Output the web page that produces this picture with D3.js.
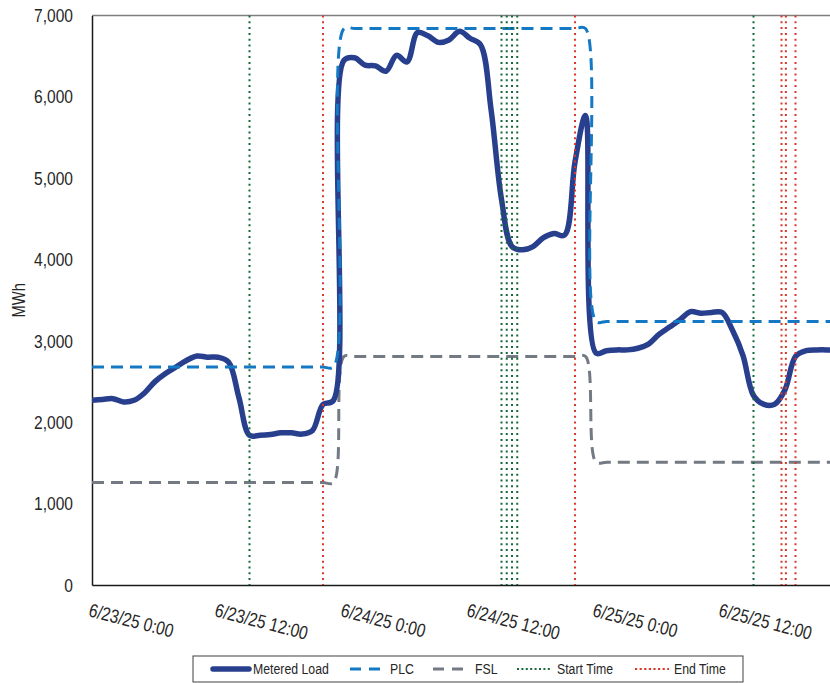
<!DOCTYPE html>
<html>
<head>
<meta charset="utf-8">
<script src="https://cdn.jsdelivr.net/npm/d3@7"></script>
<style>
  html, body { margin: 0; padding: 0; background: #fff; }
  svg { display: block; }
  text { font-family: "Liberation Sans", Arial, sans-serif; fill: #262626; }
</style>
</head>
<body>
<svg id="chart" width="830" height="683"></svg>
<script>
// Hourly readings, 6/23/25 0:00 through 6/25/25 23:00
const startHour = new Date(2025, 5, 23, 0, 0);

const meteredLoad = [
  2270, 2280, 2290, 2250, 2270, 2360, 2500, 2600, 2680, 2760, 2815, 2800,
  2800, 2740, 2300, 1840, 1840, 1850, 1870, 1870, 1855, 1900, 2220, 2270,
  6450, 6480, 6390, 6380, 6315, 6510, 6430, 6790, 6750, 6670, 6700, 6805,
  6720, 6640, 5850, 4740, 4160, 4120, 4160, 4270, 4320, 4300, 5200, 5770,
  2850, 2880, 2890, 2890, 2910, 2960, 3080, 3170, 3260, 3360, 3340, 3350,
  3350, 3130, 2820, 2330, 2220, 2220, 2400, 2810, 2880, 2890, 2890, 2880
];

const plc = [
  2680, 2680, 2680, 2680, 2680, 2680, 2680, 2680, 2680, 2680, 2680, 2680,
  2680, 2680, 2680, 2680, 2680, 2680, 2680, 2680, 2680, 2680, 2680, 2680,
  6840, 6840, 6840, 6840, 6840, 6840, 6840, 6840, 6840, 6840, 6840, 6840,
  6840, 6840, 6840, 6840, 6840, 6840, 6840, 6840, 6840, 6840, 6840, 6840,
  3240, 3240, 3240, 3240, 3240, 3240, 3240, 3240, 3240, 3240, 3240, 3240,
  3240, 3240, 3240, 3240, 3240, 3240, 3240, 3240, 3240, 3240, 3240, 3240
];

const fsl = [
  1260, 1260, 1260, 1260, 1260, 1260, 1260, 1260, 1260, 1260, 1260, 1260,
  1260, 1260, 1260, 1260, 1260, 1260, 1260, 1260, 1260, 1260, 1260, 1260,
  2810, 2810, 2810, 2810, 2810, 2810, 2810, 2810, 2810, 2810, 2810, 2810,
  2810, 2810, 2810, 2810, 2810, 2810, 2810, 2810, 2810, 2810, 2810, 2810,
  1510, 1510, 1510, 1510, 1510, 1510, 1510, 1510, 1510, 1510, 1510, 1510,
  1510, 1510, 1510, 1510, 1510, 1510, 1510, 1510, 1510, 1510, 1510, 1510
];

const startTimes = [
  "2025-06-23 15:00", "2025-06-24 15:00", "2025-06-24 15:30",
  "2025-06-24 16:00", "2025-06-24 16:30", "2025-06-25 15:00"
];
const endTimes = [
  "2025-06-23 22:00", "2025-06-24 22:00", "2025-06-25 17:40",
  "2025-06-25 18:05", "2025-06-25 19:00"
];

const yTicks = [0, 1000, 2000, 3000, 4000, 5000, 6000, 7000];
const xTicks = ["2025-06-23 00:00", "2025-06-23 12:00", "2025-06-24 00:00",
                "2025-06-24 12:00", "2025-06-25 00:00", "2025-06-25 12:00"];

const legendItems = ["Metered Load", "PLC", "FSL", "Start Time", "End Time"];

// ---------------------------------------------------------------------
const parseTime = d3.timeParse("%Y-%m-%d %H:%M");
const fmtTick = d3.timeFormat("%-m/%-d/%y %-H:%M");
const times = meteredLoad.map((_, i) => d3.timeHour.offset(startHour, i));

// narrow-face text: squeeze glyphs horizontally
const NARROW = 0.82;

const svg = d3.select("#chart");
const plot = { left: 92, right: 848, top: 15.5, bottom: 585 };

const x = d3.scaleTime()
  .domain([startHour, d3.timeDay.offset(startHour, 3)])
  .range([plot.left, plot.right]);
const y = d3.scaleLinear()
  .domain([0, 7000])
  .range([plot.bottom, plot.top]);

const colors = {
  metered: "#283F8E",
  plc: "#1479C4",
  fsl: "#737A83",
  start: "#16693A",
  end: "#D8392B"
};

// plot frame: grey top edge, black value and time axes
svg.append("line")
  .attr("x1", plot.left).attr("x2", plot.right)
  .attr("y1", plot.top).attr("y2", plot.top)
  .attr("stroke", "#7f7f7f").attr("stroke-width", 1.5);

// y axis
const yAxis = svg.append("g")
  .attr("transform", `translate(${plot.left},0)`)
  .call(d3.axisLeft(y).tickValues(yTicks).tickSize(0)
        .tickFormat(d3.format(",")));
yAxis.select(".domain").attr("stroke", "#1a1a1a").attr("stroke-width", 1.5);
yAxis.selectAll(".tick text")
  .attr("x", 0)
  .attr("transform", `translate(-19,0) scale(${NARROW},1)`)
  .style("font-size", "19px");

// x axis with slanted labels
const xAxis = svg.append("g")
  .attr("transform", `translate(0,${plot.bottom})`)
  .call(d3.axisBottom(x).tickValues(xTicks.map(parseTime)).tickSize(0)
        .tickFormat(fmtTick));
xAxis.select(".domain").attr("stroke", "#1a1a1a").attr("stroke-width", 1.5);
xAxis.selectAll(".tick text")
  .attr("text-anchor", "start")
  .attr("y", 0).attr("dy", 0)
  .attr("transform", `translate(-4.7,31) rotate(14.5) scale(${NARROW},1)`)
  .style("font-size", "19px");

// axis title
svg.append("text")
  .attr("transform", `translate(25,${(plot.top + plot.bottom) / 2}) rotate(-90) scale(${NARROW},1)`)
  .attr("text-anchor", "middle")
  .style("font-size", "18px")
  .text("MWh");

// series
svg.append("clipPath").attr("id", "plotClip")
  .append("rect")
  .attr("x", plot.left).attr("y", plot.top - 10)
  .attr("width", plot.right - plot.left).attr("height", plot.bottom - plot.top + 10);

const smooth = d3.line()
  .x((d, i) => x(times[i]))
  .y(d => y(d))
  .curve(d3.curveCatmullRom.alpha(0.5));

const series = svg.append("g").attr("clip-path", "url(#plotClip)");

series.append("path").datum(fsl)
  .attr("d", smooth).attr("fill", "none")
  .attr("stroke", colors.fsl).attr("stroke-width", 3)
  .attr("stroke-dasharray", "12 7");

series.append("path").datum(meteredLoad)
  .attr("d", smooth).attr("fill", "none")
  .attr("stroke", colors.metered).attr("stroke-width", 5.5)
  .attr("stroke-linejoin", "round").attr("stroke-linecap", "round");

series.append("path").datum(plc)
  .attr("d", smooth).attr("fill", "none")
  .attr("stroke", colors.plc).attr("stroke-width", 3)
  .attr("stroke-dasharray", "12 7");

// event markers
function markers(list, color) {
  series.selectAll(null).data(list.map(parseTime)).enter().append("line")
    .attr("x1", d => x(d)).attr("x2", d => x(d))
    .attr("y1", plot.top).attr("y2", plot.bottom)
    .attr("stroke", color).attr("stroke-width", 2)
    .attr("stroke-dasharray", "2 3.8");
}
markers(startTimes, colors.start);
markers(endTimes, colors.end);

// legend
const legend = svg.append("g");
legend.append("rect")
  .attr("x", 193).attr("y", 656).attr("width", 550).attr("height", 26)
  .attr("fill", "#fff").attr("stroke", "#404040").attr("stroke-width", 1);

const legendStyles = [
  { color: colors.metered, width: 5.5, dash: null, cap: "round", x0: 213, x1: 249, tx: 253 },
  { color: colors.plc, width: 3, dash: "11 8", cap: "butt", x0: 350, x1: 381, tx: 390 },
  { color: colors.fsl, width: 3, dash: "11 8", cap: "butt", x0: 433, x1: 465, tx: 475 },
  { color: colors.start, width: 2, dash: "2 2.4", cap: "butt", x0: 517, x1: 551, tx: 557 },
  { color: colors.end, width: 2.2, dash: "2.2 2.4", cap: "butt", x0: 635, x1: 669, tx: 674 }
];
legendItems.forEach((name, i) => {
  const s = legendStyles[i];
  legend.append("line")
    .attr("x1", s.x0).attr("x2", s.x1).attr("y1", 669).attr("y2", 669)
    .attr("stroke", s.color).attr("stroke-width", s.width)
    .attr("stroke-linecap", s.cap)
    .attr("stroke-dasharray", s.dash);
  legend.append("text")
    .attr("transform", `translate(${s.tx},669) scale(${NARROW},1)`)
    .attr("dy", "0.36em")
    .style("font-size", "15px")
    .text(name);
});
</script>
</body>
</html>
